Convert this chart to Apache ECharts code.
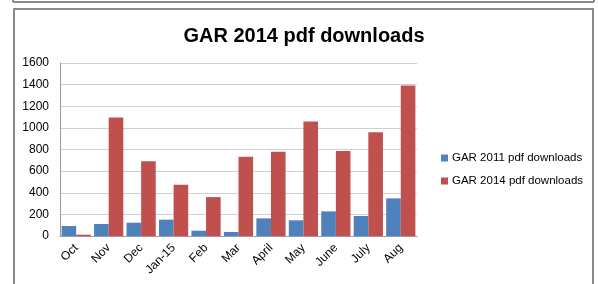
<!DOCTYPE html>
<html>
<head>
<meta charset="utf-8">
<script src="https://cdn.jsdelivr.net/npm/echarts@6/dist/echarts.min.js"></script>
<style>
  html, body { margin: 0; padding: 0; background: #fff; }
  #chart { width: 598px; height: 284px; }
</style>
</head>
<body>
<div id="chart"></div>
<script>
var months = ['Oct', 'Nov', 'Dec', 'Jan-15', 'Feb', 'Mar', 'April', 'May', 'June', 'July', 'Aug'];
var gar2011 = [92, 111, 123, 151, 49, 37, 163, 145, 228, 185, 348];
var gar2014 = [12, 1095, 692, 474, 360, 733, 780, 1060, 786, 960, 1393];
var yTicks = [0, 200, 400, 600, 800, 1000, 1200, 1400, 1600];

var font = 'Liberation Sans';
var chart = echarts.init(document.getElementById('chart'));

chart.setOption({
  animation: false,
  backgroundColor: '#fff',
  title: {
    text: 'GAR 2014 pdf downloads',
    left: 299,
    textAlign: 'center',
    top: 21,
    textStyle: { fontFamily: font, fontSize: 20, fontWeight: 'bold', color: '#000' }
  },
  graphic: [
    // box borders like the pasted excel frame
    { type: 'line', shape: { x1: 13, y1: 2, x2: 594, y2: 2 }, style: { stroke: '#8a8a8a', lineWidth: 2 } },
    { type: 'line', shape: { x1: 13, y1: 0, x2: 13, y2: 2 }, style: { stroke: '#8a8a8a', lineWidth: 2 } },
    { type: 'line', shape: { x1: 594, y1: 0, x2: 594, y2: 2 }, style: { stroke: '#8a8a8a', lineWidth: 2 } },
    { type: 'polyline', shape: { points: [[14, 284], [14, 9], [593, 9], [593, 284]] }, style: { stroke: '#8a8a8a', fill: null, lineWidth: 2 } }
  ],
  legend: {
    orient: 'vertical',
    left: 436,
    top: 147,
    itemWidth: 7,
    itemHeight: 7,
    itemGap: 11,
    icon: 'rect',
    textStyle: { fontFamily: font, fontSize: 11.5, color: '#000', padding: [0, 0, 0, -1] },
    data: ['GAR 2011 pdf downloads', 'GAR 2014 pdf downloads']
  },
  grid: { left: 60, top: 63, right: 181, bottom: 48 },
  xAxis: {
    type: 'category',
    data: months,
    axisLine: { lineStyle: { color: '#9a9a9a' } },
    axisTick: { show: false },
    axisLabel: { rotate: 45, fontFamily: font, fontSize: 12, color: '#000', margin: 10, interval: 0 }
  },
  yAxis: {
    type: 'value',
    min: 0,
    max: yTicks[yTicks.length - 1],
    interval: yTicks[1] - yTicks[0],
    axisLine: { show: true, lineStyle: { color: '#9a9a9a' } },
    axisTick: { show: false },
    splitLine: { lineStyle: { color: '#d0d0d0' } },
    axisLabel: { fontFamily: font, fontSize: 12, color: '#000', margin: 11, formatter: function (v) { return String(v); } }
  },
  series: [
    {
      name: 'GAR 2011 pdf downloads',
      type: 'bar',
      data: gar2011,
      barGap: '0%',
      barCategoryGap: '10%',
      itemStyle: { color: '#4f81bd' }
    },
    {
      name: 'GAR 2014 pdf downloads',
      type: 'bar',
      data: gar2014,
      itemStyle: { color: '#c0504d' }
    }
  ]
});
</script>
</body>
</html>
